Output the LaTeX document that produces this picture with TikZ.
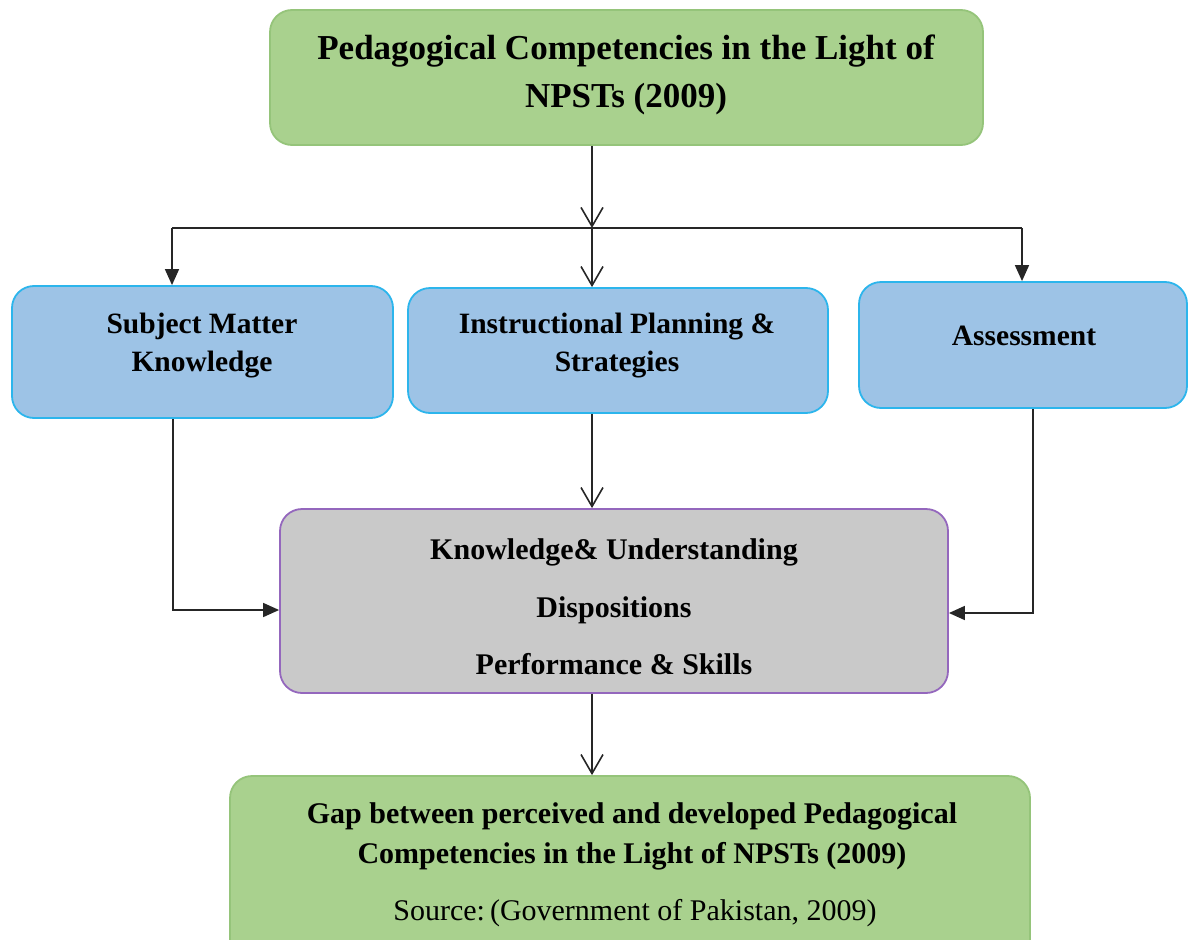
\documentclass[tikz,border=0pt]{standalone}
\usepackage{fontspec}
\setmainfont{Liberation Serif}
\usetikzlibrary{arrows.meta}
\definecolor{gfill}{HTML}{A9D18E}
\definecolor{gdraw}{HTML}{95C47A}
\definecolor{bfill}{HTML}{9DC3E6}
\definecolor{bdraw}{HTML}{2CB5EC}
\definecolor{grfill}{HTML}{C9C9C9}
\definecolor{grdraw}{HTML}{9467BD}
\begin{document}
\begin{tikzpicture}[x=1pt,y=-1pt,
  box/.style={rounded corners=22pt, line width=1.8pt, minimum width=#1},
  greenbox/.style={box=10pt, fill=gfill, draw=gdraw},
  bluebox/.style={box=10pt, fill=bfill, draw=bdraw},
  graybox/.style={box=10pt, fill=grfill, draw=grdraw},
  txt/.style={inner sep=0pt, align=center, font=\bfseries\fontsize{#1}{#1}\selectfont},
  conn/.style={line width=1.6pt, draw=black!85},
  openarr/.style={conn, -{Straight Barb[length=19pt,width=22pt,line width=1.6pt]}},
  fillarr/.style={conn, -{Triangle[length=16pt,width=14pt]}}
]
\useasboundingbox (0,0) rectangle (1190,939);
% boxes
\node[greenbox, minimum width=713pt, minimum height=135pt] (top) at (626.5,77.5) {};
\node[bluebox, minimum width=381pt, minimum height=132pt] (b1) at (202.5,352) {};
\node[bluebox, minimum width=420pt, minimum height=125pt] (b2) at (618,350.5) {};
\node[bluebox, minimum width=328pt, minimum height=126pt] (b3) at (1023,345) {};
\node[graybox, minimum width=668pt, minimum height=184pt] (g) at (614,601) {};
\node[greenbox, minimum width=800pt, minimum height=190pt] (bot) at (630,871) {};
% texts
\node[txt=35, font=\bfseries\fontsize{35}{48}\selectfont] (ttop) at (626,75) {Pedagogical Competencies in the Light of\\NPSTs (2009)};
\node[txt=29.5, font=\bfseries\fontsize{29.5}{38}\selectfont] (tb1) at (202,346) {Subject Matter\\Knowledge};
\node[txt=29.5, font=\bfseries\fontsize{29.5}{38}\selectfont] (tb2) at (617,346) {Instructional Planning \&\\Strategies};
\node[txt=29.5] (tb3) at (1024,336) {Assessment};
\node[txt=30, font=\bfseries\fontsize{30}{57.5}\selectfont] (tg) at (614,607) {Knowledge\& Understanding\\Dispositions\\Performance \& Skills};
\node[txt=30, font=\bfseries\fontsize{30}{40}\selectfont] (tbot) at (632,836) {Gap between perceived and developed Pedagogical\\Competencies in the Light of NPSTs (2009)};
\node[inner sep=0pt, font=\fontsize{30}{30}\selectfont] (src) at (635,913) {Source:\,(Government of Pakistan, 2009)};
% connectors
\coordinate (j) at (592,228);
\coordinate (jl) at (172,228);
\coordinate (jr) at (1022,228);
\coordinate (ll) at (173,610);
\coordinate (rr) at (1033,613);
\draw[openarr] (j |- top.south) -- (j);
\draw[conn] (jl) -- (jr);
\draw[fillarr] (jl) -- (jl |- b1.north);
\draw[openarr] (j) -- (j |- b2.north);
\draw[fillarr] (jr) -- (jr |- b3.north);
\draw[fillarr] (ll |- b1.south) -- (ll) -- (ll -| g.west);
\draw[fillarr] (rr |- b3.south) -- (rr) -- (rr -| g.east);
\draw[openarr] (j |- b2.south) -- (j |- g.north);
\draw[openarr] (j |- g.south) -- (j |- bot.north);
\end{tikzpicture}
\end{document}
